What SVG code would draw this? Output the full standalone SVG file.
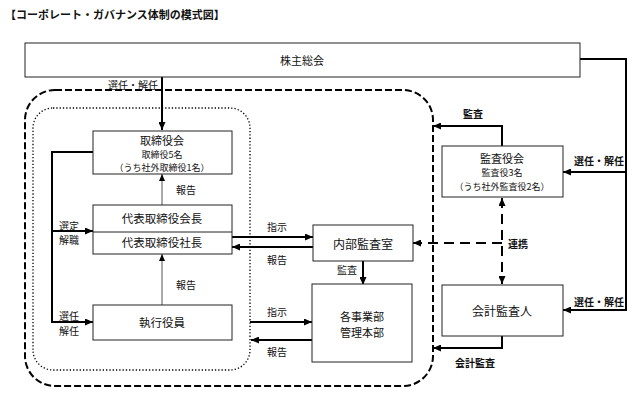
<svg xmlns="http://www.w3.org/2000/svg" width="640" height="396" viewBox="0 0 640 396">
<style>
text{font-family:"Noto Sans CJK JP","Noto Sans",sans-serif;fill:#111;dominant-baseline:central}
.box{fill:#fff;stroke:#222;stroke-width:1}
.c{fill:none;stroke:#000;stroke-width:2}
.thin{fill:none;stroke:#555;stroke-width:1}
.lb{font-size:10px}
.bl{font-size:10px;font-weight:bold}
.m{font-size:11.5px;text-anchor:middle}
.h{font-size:11px;text-anchor:middle}
.s{font-size:9px;text-anchor:middle}
.dash{fill:none;stroke:#000;stroke-width:2;stroke-dasharray:7 3}
.dot{fill:none;stroke:#000;stroke-width:1.3;stroke-dasharray:1.3 2}
</style>
<defs>
<marker id="ah" viewBox="0 0 8 7" refX="8" refY="3.5" markerWidth="8" markerHeight="7" markerUnits="userSpaceOnUse" orient="auto-start-reverse"><path d="M0,0 L8,3.5 L0,7 z" fill="#000"/></marker>
<marker id="as" viewBox="0 0 7 6" refX="7" refY="3" markerWidth="7" markerHeight="6" markerUnits="userSpaceOnUse" orient="auto"><path d="M0,0 L7,3 L0,6 z" fill="#000"/></marker>
</defs>
<rect width="640" height="396" fill="#fff"/>
<text x="5" y="14" style="font-size:11px;font-weight:bold">【コーポレート・ガバナンス体制の模式図】</text>

<g id="frames">
<rect class="dash" x="25" y="90" width="408" height="296" rx="30" ry="30"/>
<rect class="dot" x="33" y="108" width="217" height="262" rx="20" ry="20"/>
</g>

<g id="connectors">
<path class="c" d="M162,77 V130" marker-end="url(#ah)"/>
<path class="c" d="M580,59 H626 V310 H563" marker-end="url(#ah)"/>
<path class="c" d="M626,172 H563" marker-end="url(#ah)"/>
<path class="c" d="M502,146 V126 H433" marker-end="url(#ah)"/>
<path class="c" d="M502,336 V348 H433" marker-end="url(#ah)"/>
<path class="c" d="M502,243 H413" style="stroke-dasharray:10 6" marker-end="url(#ah)"/>
<path class="c" d="M502,198 V284" style="stroke-dasharray:10 6" marker-start="url(#ah)" marker-end="url(#ah)"/>
<path class="c" d="M232,237 H313" marker-end="url(#ah)"/>
<path class="c" d="M313,247 H232" marker-end="url(#ah)"/>
<path class="c" d="M363,261 V285" marker-end="url(#ah)"/>
<path class="c" d="M250,322 H312" marker-end="url(#ah)"/>
<path class="c" d="M312,340 H251" marker-end="url(#ah)"/>
<path class="c" d="M93,152 H52 V322 H93" marker-end="url(#ah)"/>
<path class="c" d="M52,231 H93" marker-end="url(#ah)"/>
<path class="thin" d="M162,205 V174" marker-end="url(#as)"/>
<path class="thin" d="M162,305 V254" marker-end="url(#as)"/>

<text class="lb" x="158" y="84" text-anchor="end">選任・解任</text>
<text class="lb" x="176" y="189">報告</text>
<text class="lb" x="176" y="284">報告</text>
<text class="lb" x="59" y="225">選定</text>
<text class="lb" x="59" y="239">解職</text>
<text class="lb" x="59" y="315">選任</text>
<text class="lb" x="59" y="330">解任</text>
<text class="lb" x="267" y="226">指示</text>
<text class="lb" x="267" y="259">報告</text>
<text class="lb" x="267" y="311">指示</text>
<text class="lb" x="267" y="351">報告</text>
<text class="lb" x="337" y="269">監査</text>
<text class="bl" x="463" y="113">監査</text>
<text class="bl" x="574" y="160">選任・解任</text>
<text class="bl" x="574" y="301">選任・解任</text>
<text class="bl" x="508" y="243">連携</text>
<text class="bl" x="455" y="362">会計監査</text>
</g>

<g id="kabunushi">
<rect class="box" x="25" y="43" width="555" height="34"/>
<text class="m" x="302" y="60" style="font-size:11px">株主総会</text>
</g>

<g id="torishimariyakukai">
<rect class="box" x="93" y="131" width="139" height="43"/>
<text class="h" x="162" y="139.5">取締役会</text>
<text class="s" x="162" y="154">取締役5名</text>
<text class="s" x="162" y="167">（うち社外取締役1名）</text>
</g>

<g id="daihyo">
<rect class="box" x="93" y="205" width="139" height="49"/>
<line x1="93" y1="232" x2="232" y2="232" stroke="#222" stroke-width="1"/>
<text class="m" x="162" y="218">代表取締役会長</text>
<text class="m" x="162" y="242">代表取締役社長</text>
</g>

<g id="shikko">
<rect class="box" x="93" y="305" width="139" height="35"/>
<text class="m" x="162" y="322">執行役員</text>
</g>

<g id="naibu">
<rect class="box" x="313" y="225" width="100" height="36"/>
<text class="m" x="363" y="243" style="font-size:12px">内部監査室</text>
</g>

<g id="jigyobu">
<rect class="box" x="312" y="284" width="100" height="78"/>
<text class="m" x="362" y="316" style="font-size:11px">各事業部</text>
<text class="m" x="362" y="332" style="font-size:11px">管理本部</text>
</g>

<g id="kansayakukai">
<rect class="box" x="442" y="146" width="121" height="51"/>
<text class="h" x="502" y="158">監査役会</text>
<text class="s" x="502" y="172.5">監査役3名</text>
<text class="s" x="502" y="186">（うち社外監査役2名）</text>
</g>

<g id="kaikei">
<rect class="box" x="442" y="285" width="121" height="51"/>
<text class="m" x="502" y="310" style="font-size:12px">会計監査人</text>
</g>
</svg>
